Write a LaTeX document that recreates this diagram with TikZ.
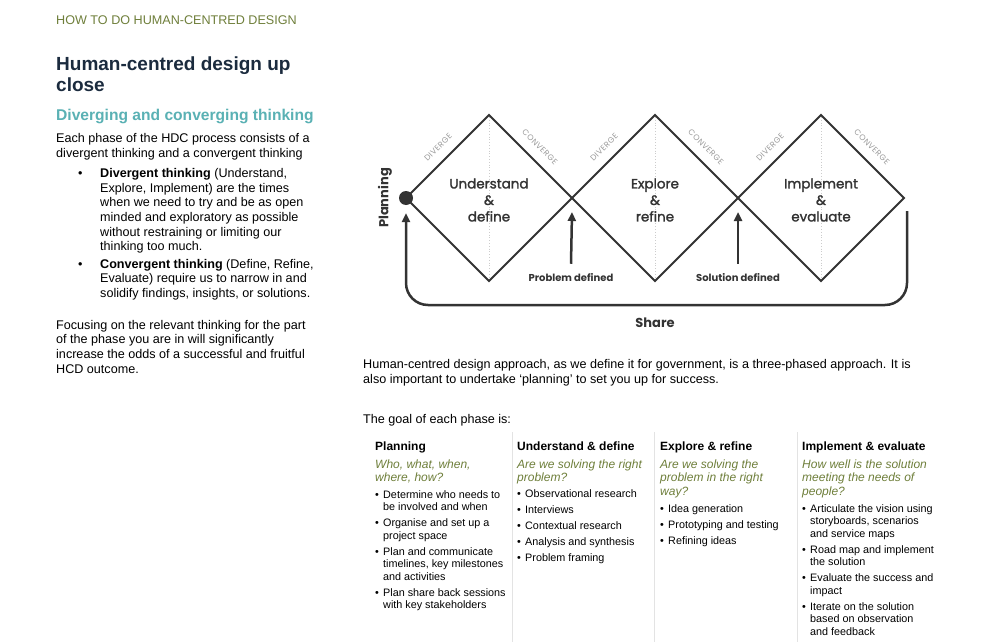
\documentclass[tikz,border=0pt]{standalone}
\usepackage{fontspec}
\setmainfont{Liberation Sans}
\newfontfamily\dfont{Poppins}
\newfontfamily\dmed{Poppins}[FakeBold=1.6]
\newfontfamily\spfont{Poppins}[LetterSpace=6]
\usetikzlibrary{arrows.meta,positioning,calc}

\definecolor{olive}{HTML}{6F7F3B}
\definecolor{navy}{HTML}{1B2B3E}
\definecolor{hcdteal}{HTML}{5AB1B4}
\definecolor{ink}{HTML}{333333}
\definecolor{faint}{HTML}{999999}
\definecolor{rulegray}{HTML}{E3E3E3}

\newcommand{\tbul}{\makebox[8pt][l]{\textbullet}}
\newcommand{\tind}{\hspace*{8pt}}
\newcommand{\bigbul}{\makebox[22pt][l]{\textbullet}}

\begin{document}
\begin{tikzpicture}[x=1pt, y=-1pt,
    txt/.style={align=left, anchor=north west, inner sep=0pt},
    body/.style={txt, font=\fontsize{12.6}{14.6}\selectfont},
    colhead/.style={txt, font=\bfseries\fontsize{12}{14}\selectfont},
    question/.style={txt, olive, font=\itshape\fontsize{12}{13.4}\selectfont},
    items/.style={txt, font=\fontsize{10.8}{12.7}\selectfont},
    dline/.style={ink, line width=2pt, line join=miter},
    dotline/.style={gray!40, dotted, line width=0.8pt},
    edgelbl/.style={sloped, anchor=south, inner xsep=0pt, inner ysep=9.5pt, faint, font=\spfont\fontsize{8}{9}\selectfont},
    phase/.style={align=center, ink, font=\dmed\fontsize{13.5}{16.5}\selectfont},
    milestone/.style={ink, inner sep=0pt, font=\dfont\bfseries\fontsize{10}{11}\selectfont},
    bigl/.style={ink, font=\dfont\bfseries\fontsize{13}{15}\selectfont},
    uparrow/.style={ink, line width=2.5pt, -{Triangle[length=9pt,width=8pt]}},
    loopline/.style={ink, line width=2.5pt, rounded corners=22pt, -{Triangle[length=9pt,width=8pt]}},
    rule/.style={rulegray, line width=0.8pt}]
  \useasboundingbox[fill=white] (0,0) rectangle (1000,642);

  % left column
  \node[txt, olive, font=\fontsize{12.6}{15}\selectfont] (kicker) at (56,15.5) {HOW TO DO HUMAN-CENTRED DESIGN};
  \node[txt, navy, font=\bfseries\fontsize{19}{21}\selectfont] (title) at (56,57) {Human-centred design up\\close};
  \node[txt, hcdteal, font=\bfseries\fontsize{15.6}{18}\selectfont] (subtitle) at (56,109) {Diverging and converging thinking};
  \node[body, font=\fontsize{12.6}{15}\selectfont] (intro) at (56,133.3) {Each phase of the HDC process consists of a\\divergent thinking and a convergent thinking};
  \node[body] (divg) at (78,168.3) {\bigbul\textbf{Divergent thinking} (Understand,\\
    \hspace*{22pt}Explore, Implement) are the times\\
    \hspace*{22pt}when we need to try and be as open\\
    \hspace*{22pt}minded and exploratory as possible\\
    \hspace*{22pt}without restraining or limiting our\\
    \hspace*{22pt}thinking too much.};
  \node[body] (conv) at (78,259) {\bigbul\textbf{Convergent thinking} (Define, Refine,\\
    \hspace*{22pt}Evaluate) require us to narrow in and\\
    \hspace*{22pt}solidify findings, insights, or solutions.};
  \node[body] (focus) at (56,320) {Focusing on the relevant thinking for the part\\of the phase you are in will significantly\\increase the odds of a successful and fruitful\\HCD outcome.};

  % double diamond
  \foreach \i/\cx/\pa/\pb in {1/489/Understand/define, 2/655/Explore/refine, 3/821/Implement/evaluate} {
    \draw[dotline] (\cx,117) -- (\cx,279);
    \draw[dline] (\cx-83,198) -- (\cx,115) node[edgelbl, pos=0.5] (dv\i) {DIVERGE}
      -- (\cx+83,198) node[edgelbl, pos=0.5] (cv\i) {CONVERGE}
      -- (\cx,281) -- cycle;
    \node[phase] (ph\i) at (\cx,200) {\pa\\\&\\\pb};
  }
  \coordinate (x1) at (572,198);
  \coordinate (x2) at (738,198);
  \node[circle, fill=ink, minimum size=14pt, inner sep=0pt] (plan) at (406,198) {};
  \node[bigl, rotate=90] (planlbl) at (385,198) {Planning};

  \node[milestone] (pd) at (571,278) {Problem defined};
  \node[milestone] (sd) at (738,278) {Solution defined};
  \draw[uparrow] ([yshift=10pt]pd.north) -- ([yshift=-14pt]x1);
  \draw[uparrow] ([yshift=10pt]sd.north) -- ([yshift=-14pt]x2);

  \coordinate (loopend) at (907,211);
  \coordinate (loopbase) at (655,305);
  \draw[loopline] (loopend) |- (loopbase) -| ([yshift=-8pt]plan.south);
  \node[bigl] (sharelbl) at (655,323) {Share};

  % right column
  \node[body, font=\fontsize{12.6}{15}\selectfont] (approach) at (363,359.5) {Human-centred design approach, as we define it for government, is a three-phased approach. It is\\also important to undertake `planning' to set you up for success.};
  \node[body] (goal) at (363,414.5) {The goal of each phase is:};

  % phase table
  \foreach \x in {512,654,797}
    \draw[rule] (\x,432) -- (\x,642);

  \node[colhead] (h1) at (375,441.5) {Planning};
  \node[question] (q1) at (375,459.3) {Who, what, when,\\where, how?};
  \node[items] (l1) at (375,490) {\tbul Determine who needs to\\\tind be involved and when\\[3.1pt]
    \tbul Organise and set up a\\\tind project space\\[3.1pt]
    \tbul Plan and communicate\\\tind timelines, key milestones\\\tind and activities\\[3.1pt]
    \tbul Plan share back sessions\\\tind with key stakeholders};

  \node[colhead] (h2) at (517,441.5) {Understand \& define};
  \node[question] (q2) at (517,459.3) {Are we solving the right\\problem?};
  \node[items] (l2) at (517,489.5) {\tbul Observational research\\[3.3pt]
    \tbul Interviews\\[3.3pt]
    \tbul Contextual research\\[3.3pt]
    \tbul Analysis and synthesis\\[3.3pt]
    \tbul Problem framing};

  \node[colhead] (h3) at (660,441.5) {Explore \& refine};
  \node[question] (q3) at (660,459.3) {Are we solving the\\problem in the right\\way?};
  \node[items] (l3) at (660,504) {\tbul Idea generation\\[3.3pt]
    \tbul Prototyping and testing\\[3.3pt]
    \tbul Refining ideas};

  \node[colhead] (h4) at (802,441.5) {Implement \& evaluate};
  \node[question] (q4) at (802,459.3) {How well is the solution\\meeting the needs of\\people?};
  \node[items] (l4) at (802,504) {\tbul Articulate the vision using\\\tind storyboards, scenarios\\\tind and service maps\\[3.1pt]
    \tbul Road map and implement\\\tind the solution\\[3.1pt]
    \tbul Evaluate the success and\\\tind impact\\[3.1pt]
    \tbul Iterate on the solution\\\tind based on observation\\\tind and feedback};
\end{tikzpicture}
\end{document}
